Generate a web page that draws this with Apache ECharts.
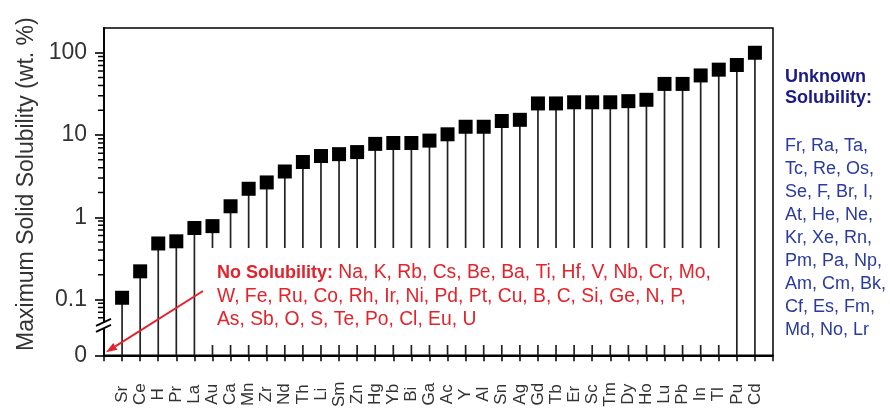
<!DOCTYPE html>
<html>
<head>
<meta charset="utf-8">
<script src="https://cdn.jsdelivr.net/npm/echarts@6/dist/echarts.min.js"></script>
<style>
html,body{margin:0;padding:0;background:#fff;}
#chart{width:890px;height:410px;}
</style>
</head>
<body>
<div id="chart"></div>
<script>
// ---- data ----
const CATEGORIES = ['Sr','Ce','H','Pr','La','Au','Ca','Mn','Zr','Nd','Th','Li','Sm','Zn','Hg','Yb','Bi','Ga','Ac','Y','Al','Sn','Ag','Gd','Tb','Er','Sc','Tm','Dy','Ho','Lu','Pb','In','Tl','Pu','Cd'];
const SOLUBILITY = [0.105,0.22,0.48,0.51,0.74,0.78,1.36,2.22,2.65,3.6,4.7,5.55,5.85,6.2,7.8,8,8,8.55,10.2,12.6,12.6,14.8,15.3,24.2,24.2,25,25,25,25.8,26.8,41.8,41.8,53,62.3,71,100];
const Y_TICK_VALUES = [0.1, 1, 10, 100];
const Y_TICK_LABELS = ['0.1', '1', '10', '100'];
const Y_ZERO_LABEL = '0';
const MINOR_TICKS = [0.06,0.07,0.08,0.09,0.2,0.3,0.4,0.5,0.6,0.7,0.8,0.9,2,3,4,5,6,7,8,9,20,30,40,50,60,70,80,90];
const Y_MIN = 0.021;   // where the "0" (below the axis break) sits
const Y_MAX = 200;
const BREAK_VALUE = 0.0485;
const NO_SOLUBILITY = ['Na, K, Rb, Cs, Be, Ba, Ti, Hf, V, Nb, Cr, Mo,',
                       'W, Fe, Ru, Co, Rh, Ir, Ni, Pd, Pt, Cu, B, C, Si, Ge, N, P,',
                       'As, Sb, O, S, Te, Po, Cl, Eu, U'];
const UNKNOWN_SOLUBILITY = ['Fr, Ra, Ta,','Tc, Re, Os,','Se, F, Br, I,','At, He, Ne,','Kr, Xe, Rn,','Pm, Pa, Np,','Am, Cm, Bk,','Cf, Es, Fm,','Md, No, Lr'];

const FONT = 'Arial, "Liberation Sans", sans-serif';
const points = CATEGORIES.map((c, i) => [i + 1, SOLUBILITY[i]]);

const chart = echarts.init(document.getElementById('chart'), null, {renderer: 'canvas'});

const option = {
  animation: false,
  backgroundColor: '#fff',
  grid: {left: 104, right: 117, top: 28, bottom: 53, show: true, borderColor: '#000', borderWidth: 1.5, backgroundColor: 'transparent'},
  xAxis: {
    type: 'value', min: 0, max: CATEGORIES.length + 1, interval: 1,
    splitLine: {show: false},
    axisLine: {lineStyle: {color: '#000', width: 1.8}},
    axisTick: {show: true, inside: false, length: 6, lineStyle: {color: '#000', width: 1.5}},
    axisLabel: {
      rotate: 90, align: 'center', verticalAlign: 'middle', margin: 39,
      fontFamily: FONT, fontSize: 17, color: '#333',
      showMinLabel: true, showMaxLabel: true,
      formatter: v => CATEGORIES[Math.round(v) - 1] || ''
    }
  },
  yAxis: {
    type: 'log', logBase: 10, min: Y_MIN, max: Y_MAX,
    name: 'Maximum Solid Solubility (wt. %)',
    nameLocation: 'middle', nameGap: 66, nameRotate: 90,
    nameTextStyle: {fontFamily: FONT, fontSize: 23, color: '#333', padding: [0, 0, 0, 15]},
    splitLine: {show: false},
    axisLine: {lineStyle: {color: '#000', width: 1.8}},
    axisTick: {show: true, inside: false, length: 9, lineStyle: {color: '#000', width: 1.6}},
    axisLabel: {
      margin: 17, fontFamily: FONT, fontSize: 23, color: '#333',
      showMinLabel: true, showMaxLabel: false,
      formatter: v => {
        if (v < Y_TICK_VALUES[0] * 0.5) return Y_ZERO_LABEL;
        for (let i = 0; i < Y_TICK_VALUES.length; i++) {
          if (Math.abs(v / Y_TICK_VALUES[i] - 1) < 1e-6) return Y_TICK_LABELS[i];
        }
        return '';
      }
    }
  },
  series: [
    {
      type: 'custom', name: 'stems', z: 2, silent: true,
      data: points,
      renderItem: (params, api) => {
        const x = api.value(0);
        const top = api.coord([x, api.value(1)]);
        const bottom = api.coord([x, Y_MIN]);
        return {type: 'line', shape: {x1: top[0], y1: top[1], x2: bottom[0], y2: bottom[1]},
                style: {stroke: '#222', lineWidth: 1.7}};
      }
    },
    {
      type: 'scatter', name: 'solubility', z: 4,
      symbol: 'rect', symbolSize: 14,
      itemStyle: {color: '#000', opacity: 1},
      data: points
    }
  ]
};
chart.setOption(option);

// annotation overlays (minor ticks, text box, arrow, axis break)
const ax = chart.convertToPixel({xAxisIndex: 0}, 0);
const yb = chart.convertToPixel({yAxisIndex: 0}, BREAK_VALUE);
const RED = '#e3232c';
const tip = [ax + 2, chart.convertToPixel({yAxisIndex: 0}, Y_MIN) - 3];
const start = [203, 291];
const dx = tip[0] - start[0], dy = tip[1] - start[1];
const len = Math.sqrt(dx * dx + dy * dy);
const ux = dx / len, uy = dy / len;
const base = [tip[0] - 11 * ux, tip[1] - 11 * uy];
const px = -uy, py = ux;

const minorTickGraphics = MINOR_TICKS.map(v => {
  const y = chart.convertToPixel({yAxisIndex: 0}, v);
  return {type: 'line', z: 30, shape: {x1: ax - 6, y1: y, x2: ax, y2: y}, style: {stroke: '#000', lineWidth: 1.5}};
});

chart.setOption({
  graphic: minorTickGraphics.concat([
    {type: 'rect', z: 20, shape: {x: 205, y: 248, width: 520, height: 97}, style: {fill: '#fff'}},
    {type: 'text', z: 21, left: 217, top: 261,
      style: {
        text: '{b|No Solubility:} ' + NO_SOLUBILITY.join('\n'),
        fill: RED, fontFamily: FONT, fontSize: 19.3, lineHeight: 23.5,
        rich: {b: {fontWeight: 'bold', fill: RED, fontFamily: FONT, fontSize: 18, lineHeight: 23.5}}
      }},
    {type: 'line', z: 22, shape: {x1: start[0], y1: start[1], x2: base[0], y2: base[1]},
      style: {stroke: RED, lineWidth: 2}},
    {type: 'polygon', z: 22, shape: {points: [tip, [base[0] + 4 * px, base[1] + 4 * py], [base[0] - 4 * px, base[1] - 4 * py]]},
      style: {fill: RED}},
    // axis break
    {type: 'rect', z: 22, shape: {x: ax - 3, y: yb - 3, width: 6, height: 6}, style: {fill: '#fff'}},
    {type: 'line', z: 23, shape: {x1: ax - 8, y1: yb - 3 + 3.5, x2: ax + 7, y2: yb - 3 - 3.5}, style: {stroke: '#000', lineWidth: 1.8}},
    {type: 'line', z: 23, shape: {x1: ax - 8, y1: yb + 3 + 3.5, x2: ax + 7, y2: yb + 3 - 3.5}, style: {stroke: '#000', lineWidth: 1.8}},
    // unknown solubility legend text
    {type: 'text', z: 21, left: 785, top: 66,
      style: {text: 'Unknown\nSolubility:', fill: '#1b1b86', fontFamily: FONT, fontSize: 18, fontWeight: 'bold', lineHeight: 21.5}},
    {type: 'text', z: 21, left: 785, top: 135,
      style: {text: UNKNOWN_SOLUBILITY.join('\n'), fill: '#2a3a9e', fontFamily: FONT, fontSize: 18, lineHeight: 22.9}}
  ])
});
</script>
</body>
</html>
